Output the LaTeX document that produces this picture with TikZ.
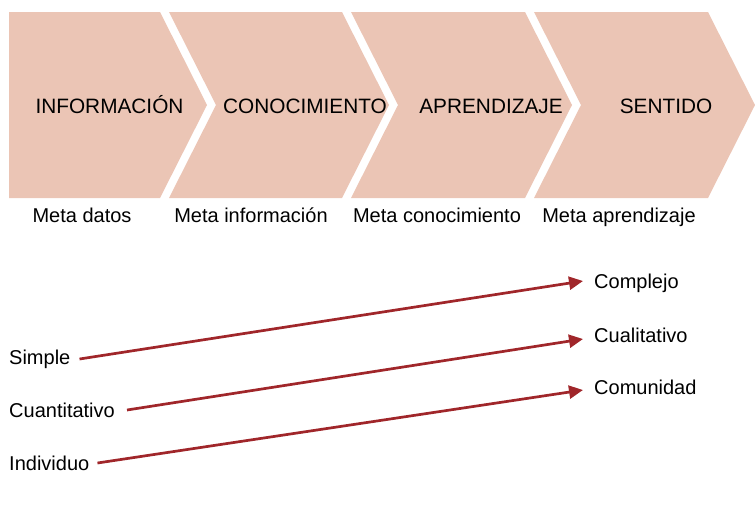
\documentclass[tikz,border=0pt]{standalone}
\usepackage{fontspec}
\setmainfont{Liberation Sans}
\usetikzlibrary{arrows.meta,calc}
\definecolor{chev}{RGB}{235,197,181}
\definecolor{arrred}{RGB}{160,38,42}
\begin{document}
\begin{tikzpicture}[x=1pt,y=-1pt,
  lbl/.style={font=\fontsize{20}{24}\selectfont, inner sep=0pt, text=black},
  toplbl/.style={lbl, font=\fontsize{20.8}{24}\selectfont},
  chevron/.style={fill=chev, draw=none},
  arr/.style={draw=arrred, line width=2.7pt, -{Triangle[length=14pt,width=13pt]}}]
\useasboundingbox (0,0) rectangle (755,517);
% chevrons
\fill[chevron] (9,12) -- (160,12) -- (207,105) -- (160,198) -- (9,198) -- cycle;
\fill[chevron] (169,12) -- (342,12) -- (389,105) -- (342,198) -- (169,198) -- (216,105) -- cycle;
\fill[chevron] (351,12) -- (525,12) -- (572,105) -- (525,198) -- (351,198) -- (398,105) -- cycle;
\fill[chevron] (534,12) -- (708,12) -- (755,105) -- (708,198) -- (534,198) -- (581,105) -- cycle;
% chevron texts
\node[toplbl, anchor=base] (info) at (109.5,113) {INFORMACIÓN};
\node[toplbl, anchor=base] (cono) at (305,113) {CONOCIMIENTO};
\node[toplbl, anchor=base] (apre) at (491,113) {APRENDIZAJE};
\node[toplbl, anchor=base] (sent) at (666,113) {SENTIDO};
% meta labels
\node[lbl, anchor=base] (m1) at (82,222) {Meta datos};
\node[lbl, anchor=base] (m2) at (251,222) {Meta información};
\node[lbl, anchor=base] (m3) at (437,222) {Meta conocimiento};
\node[lbl, anchor=base] (m4) at (619,222) {Meta aprendizaje};
% left labels
\node[lbl, anchor=base west] (simple) at (9,364) {Simple};
\node[lbl, anchor=base west] (cuanti) at (9,417) {Cuantitativo};
\node[lbl, anchor=base west] (indiv) at (9,470) {Individuo};
% right labels
\node[lbl, anchor=base west] (complejo) at (594,288) {Complejo};
\node[lbl, anchor=base west] (cuali) at (594,342) {Cualitativo};
\node[lbl, anchor=base west] (comun) at (594,394) {Comunidad};
% arrows
\draw[arr] ($(simple.base east)+(9,-5)$) -- ($(complejo.base west)+(-11,-7)$);
\draw[arr] ($(cuanti.base east)+(12,-7)$) -- ($(cuali.base west)+(-11,-3)$);
\draw[arr] ($(indiv.base east)+(8,-7)$) -- ($(comun.base west)+(-11,-4)$);
\end{tikzpicture}
\end{document}
